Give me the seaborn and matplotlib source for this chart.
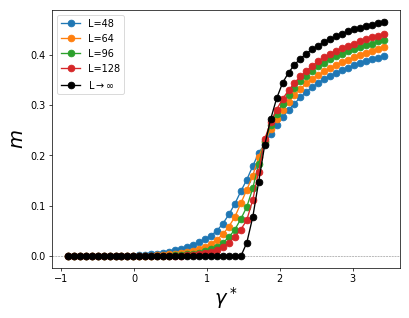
import matplotlib

matplotlib.use("Agg")

import matplotlib.pyplot as plt
import seaborn as sns

# gamma* grid
gamma = [
    -0.907, -0.825, -0.743, -0.661, -0.580, -0.498, -0.416, -0.334, -0.253, -0.171,
    -0.089, -0.007, 0.075, 0.156, 0.238, 0.320, 0.402, 0.484, 0.565, 0.647,
    0.729, 0.811, 0.892, 0.974, 1.056, 1.138, 1.220, 1.301, 1.383, 1.465,
    1.547, 1.629, 1.710, 1.792, 1.874, 1.956, 2.038, 2.119, 2.201, 2.283,
    2.365, 2.447, 2.528, 2.610, 2.692, 2.774, 2.856, 2.937, 3.019, 3.101,
    3.183, 3.265, 3.346, 3.428,
]

m_L48 = [0.0] * 10 + [
    0.001, 0.001, 0.002, 0.003, 0.004, 0.005, 0.007, 0.009, 0.012, 0.015,
    0.018, 0.023, 0.028, 0.034, 0.041, 0.051, 0.065, 0.083, 0.104, 0.129,
    0.152, 0.179, 0.205, 0.222, 0.243, 0.260, 0.276, 0.290, 0.303, 0.315,
    0.326, 0.336, 0.344, 0.352, 0.358, 0.364, 0.369, 0.374, 0.379, 0.383,
    0.387, 0.391, 0.394, 0.398,
]

m_L64 = [0.0] * 14 + [
    0.001, 0.002, 0.003, 0.004, 0.005, 0.007,
    0.009, 0.011, 0.014, 0.019, 0.025, 0.033, 0.044, 0.059, 0.078, 0.105,
    0.132, 0.160, 0.197, 0.226, 0.252, 0.273, 0.291, 0.306, 0.320, 0.332,
    0.343, 0.352, 0.360, 0.367, 0.374, 0.380, 0.385, 0.390, 0.395, 0.399,
    0.403, 0.407, 0.411, 0.415,
]

m_L96 = [0.0] * 17 + [
    0.001, 0.002, 0.003,
    0.004, 0.005, 0.007, 0.010, 0.014, 0.019, 0.027, 0.038, 0.053, 0.074,
    0.098, 0.135, 0.183, 0.229, 0.260, 0.283, 0.303, 0.320, 0.334, 0.347,
    0.358, 0.368, 0.377, 0.384, 0.391, 0.397, 0.402, 0.407, 0.411, 0.415,
    0.419, 0.422, 0.426, 0.429,
]

m_L128 = [0.0] * 18 + [
    0.001, 0.001,
    0.002, 0.003, 0.004, 0.006, 0.009, 0.013, 0.019, 0.027, 0.038, 0.053,
    0.072, 0.112, 0.168, 0.232, 0.266, 0.291, 0.312, 0.329, 0.344, 0.357,
    0.368, 0.378, 0.387, 0.395, 0.402, 0.408, 0.413, 0.418, 0.422, 0.426,
    0.430, 0.434, 0.437, 0.440,
]

m_inf = [0.0] * 30 + [
    0.027, 0.078, 0.148, 0.220, 0.272, 0.313, 0.344, 0.364, 0.380, 0.392,
    0.402, 0.411, 0.418, 0.425, 0.431, 0.436, 0.441, 0.446, 0.450, 0.453,
    0.456, 0.459, 0.462, 0.465,
]

series = [
    ("L=48", m_L48, "tab:blue"),
    ("L=64", m_L64, "tab:orange"),
    ("L=96", m_L96, "tab:green"),
    ("L=128", m_L128, "tab:red"),
    (r"L$\to\infty$", m_inf, "black"),
]

plt.rcParams["font.size"] = 11

fig, ax = plt.subplots(figsize=(6.4, 4.97), dpi=64)
fig.subplots_adjust(left=0.127, right=0.976, top=0.968, bottom=0.157)

ax.axhline(0, color="gray", linestyle="--", linewidth=0.6, zorder=0)

for label, values, color in series:
    sns.lineplot(
        x=gamma,
        y=values,
        marker="o",
        markersize=7.5,
        markeredgecolor=color,
        markeredgewidth=1,
        linewidth=1.5,
        color=color,
        label=label,
        ax=ax,
    )

ax.tick_params(labelsize=11)
ax.set_xlabel(r"$\gamma^*$", fontsize=22, labelpad=1)
ax.set_ylabel(r"$m$", fontsize=22)
ax.legend(loc="upper left", fontsize=11)

plt.savefig("out.png", dpi=64)
plt.close()
